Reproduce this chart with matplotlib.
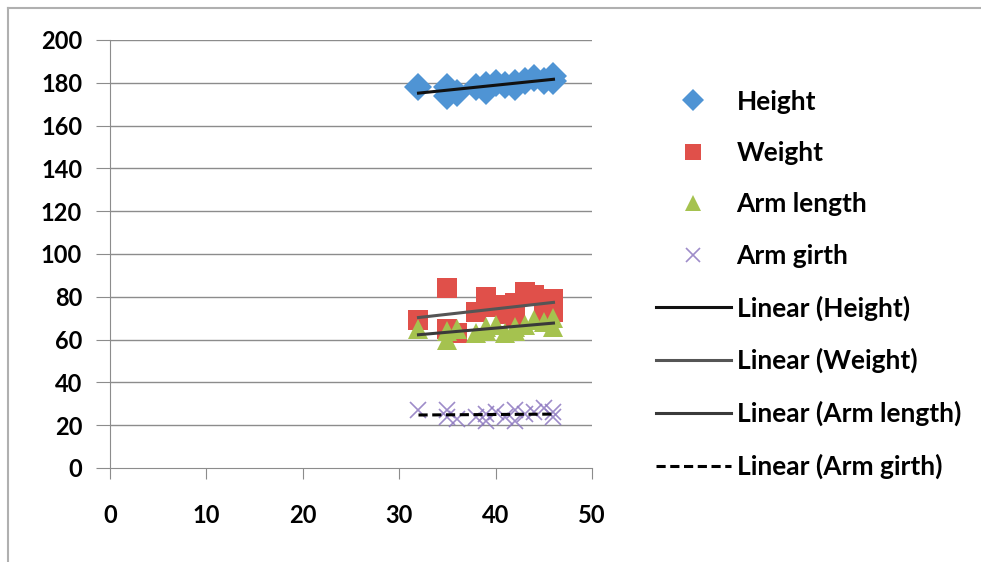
import numpy as np
import matplotlib
matplotlib.use("Agg")
import matplotlib.pyplot as plt
from matplotlib.lines import Line2D

plt.rcParams['font.family'] = ['Lato', 'DejaVu Sans']
plt.rcParams['font.weight'] = 'bold'

# ages (x) shared by all four measurements
age = [32, 35, 35, 36, 38, 39, 39, 40, 41, 42, 42, 43, 44, 45, 46, 46]
height = [178, 178, 174, 175, 178, 176, 179, 180, 179, 178, 180, 181, 182, 181, 183, 181]
weight = [69, 84, 65, 63, 73, 80, 75, 76, 72, 77, 70, 82, 81, 72, 79, 73]
arm_length = [65, 60, 64, 65, 63, 66, 64, 67, 63, 66, 64, 67, 69, 68, 70, 66]
arm_girth = [27, 27, 24, 23, 24, 22, 25, 26, 24, 27, 22, 25, 26, 28, 24, 26]

x_ticks = [0, 10, 20, 30, 40, 50]
y_ticks = [0, 20, 40, 60, 80, 100, 120, 140, 160, 180, 200]

fig = plt.figure(figsize=(9.81, 5.62), dpi=100)
ax = fig.add_axes([0.1121, 0.1673, 0.4914, 0.7616])

# figure frame (top + left visible, rest cut off)
fig.add_artist(Line2D([8 / 981, 1.0], [1 - 8 / 562, 1 - 8 / 562], color='#b0b0b0', lw=1.5, transform=fig.transFigure))
fig.add_artist(Line2D([8 / 981, 8 / 981], [0.0, 1 - 8 / 562], color='#b0b0b0', lw=1.5, transform=fig.transFigure))

for y in y_ticks[1:]:
  ax.axhline(y, color='#8c8c8c', lw=1, zorder=0)

series = [
  (height, 'Height', 'D', '#4f94d4', 14),
  (weight, 'Weight', 's', '#e0504a', 15),
  (arm_length, 'Arm length', '^', '#a5c24f', 14),
  (arm_girth, 'Arm girth', 'x', '#8d78c0', 12),
]
for vals, name, m, c, s in series:
  if m == 'x':
    ax.plot(age, vals, linestyle='none', marker=m, color=c, markersize=s, markeredgewidth=1.2, alpha=0.85, label=name, zorder=3)
  else:
    ax.plot(age, vals, linestyle='none', marker=m, color=c, markersize=s, markeredgewidth=0, label=name, zorder=3)

# linear trend lines
trend_styles = [
  ('Linear (Height)', '#111111', '-'),
  ('Linear (Weight)', '#555555', '-'),
  ('Linear (Arm length)', '#3a3a3a', '-'),
  ('Linear (Arm girth)', '#000000', '--'),
]
xs = np.array([min(age), max(age)])
for (vals, _, _, _, _), (lab, c, ls) in zip(series, trend_styles):
  k, b = np.polyfit(age, vals, 1)
  ax.plot(xs, k * xs + b, color=c, linestyle=ls, lw=2.2, label=lab, zorder=4,
          dashes=(3, 1.5) if ls == '--' else (None, None))

ax.set_xlim(0, 50)
ax.set_ylim(0, 200)
ax.set_xticks(x_ticks)
ax.set_yticks(y_ticks)
for sp in ['top', 'right']:
  ax.spines[sp].set_visible(False)
for sp in ['left', 'bottom']:
  ax.spines[sp].set_color('#8c8c8c')
ax.spines['bottom'].set_zorder(1)
ax.tick_params(axis='y', direction='out', length=10, color='#8c8c8c', labelsize=17, pad=10)
ax.tick_params(axis='x', direction='out', length=8, color='#8c8c8c', labelsize=17, pad=18)

handles, labels = ax.get_legend_handles_labels()
leg = fig.legend(handles, labels, loc='upper left', bbox_to_anchor=(645 / 981, 1 - 79 / 562),
                 frameon=False, fontsize=19, handlelength=2.85, handletextpad=0.22,
                 labelspacing=1.04, borderaxespad=0, markerscale=0.8)

plt.savefig('out.png', dpi=100)
